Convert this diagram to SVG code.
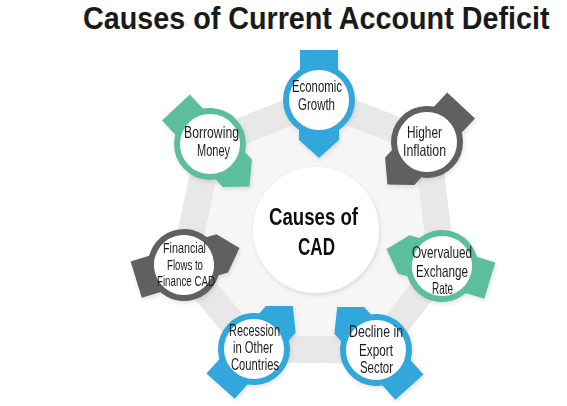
<svg xmlns="http://www.w3.org/2000/svg" width="567" height="406" viewBox="0 0 567 406">
<style>
.t{font-family:"Liberation Sans",Arial,sans-serif;font-size:16.5px;fill:#1c1c1c;text-anchor:middle}
.s{font-size:15px}
.c{font-family:"Liberation Sans",Arial,sans-serif;font-weight:bold;font-size:24px;fill:#111;text-anchor:middle}
.title{font-family:"Liberation Sans",Arial,sans-serif;font-weight:bold;font-size:32px;fill:#1a1a1a}
.blue{fill:#33a7dc}
.gray{fill:#616161}
.teal{fill:#5dbe9e}
.ring{fill:#fff;stroke-width:6}
.blue .ring{stroke:#33a7dc}
.gray .ring{stroke:#616161}
.teal .ring{stroke:#5dbe9e}
</style>
<defs>
<filter id="sh" x="-30%" y="-30%" width="160%" height="160%">
<feDropShadow dx="1" dy="2" stdDeviation="2" flood-color="#000" flood-opacity="0.12"/>
</filter>
<g id="shape">
<rect x="-19" y="-50" width="38" height="32"/>
<polygon points="-20,18 20,18 20,40 0,58 -20,40"/>
</g>
</defs>
<rect width="567" height="406" fill="#fff"/>
<text class="title" transform="translate(83,29) scale(0.83,1)" x="0" y="0" textLength="562" lengthAdjust="spacingAndGlyphs">Causes of Current Account Deficit</text>
<g id="connectors">
<polygon points="319,100 427,142 442,266 376,350 254,349 184,265 210,144" fill="#f6f6f6" stroke="#e8e8e8" stroke-width="27" stroke-linejoin="round"/>
</g>
<g id="center" filter="url(#sh)">
<circle cx="316" cy="230" r="63" fill="#fff"/>
<text class="c" x="313.5" y="225" textLength="89" lengthAdjust="spacingAndGlyphs">Causes of</text>
<text class="c" x="316.5" y="255" textLength="37" lengthAdjust="spacingAndGlyphs">CAD</text>
</g>
<g id="n-economic" class="blue" filter="url(#sh)">
<g transform="translate(319,100) rotate(0)"><use href="#shape"/><circle class="ring" r="33"/></g>
<text class="t" x="317" y="92" textLength="50" lengthAdjust="spacingAndGlyphs">Economic</text>
<text class="t" x="316.5" y="110" textLength="37" lengthAdjust="spacingAndGlyphs">Growth</text>
</g>
<g id="n-inflation" class="gray" filter="url(#sh)">
<g transform="translate(427,142) rotate(43)"><use href="#shape"/><circle class="ring" r="33"/></g>
<text class="t" x="424.5" y="138" textLength="35" lengthAdjust="spacingAndGlyphs">Higher</text>
<text class="t" x="424.5" y="156" textLength="43" lengthAdjust="spacingAndGlyphs">Inflation</text>
</g>
<g id="n-exchange" class="teal" filter="url(#sh)">
<g transform="translate(442,266) rotate(107)"><use href="#shape"/><circle class="ring" r="33"/></g>
<text class="t" x="442" y="258" textLength="60" lengthAdjust="spacingAndGlyphs">Overvalued</text>
<text class="t" x="442" y="277" textLength="52" lengthAdjust="spacingAndGlyphs">Exchange</text>
<text class="t" x="442.5" y="294" textLength="21" lengthAdjust="spacingAndGlyphs">Rate</text>
</g>
<g id="n-export" class="blue" filter="url(#sh)">
<g transform="translate(376,350) rotate(138)"><use href="#shape"/><circle class="ring" r="33"/></g>
<text class="t" x="376" y="337" textLength="54" lengthAdjust="spacingAndGlyphs">Decline in</text>
<text class="t" x="376" y="356" textLength="34" lengthAdjust="spacingAndGlyphs">Export</text>
<text class="t" x="376.5" y="373" textLength="33" lengthAdjust="spacingAndGlyphs">Sector</text>
</g>
<g id="n-recession" class="blue" filter="url(#sh)">
<g transform="translate(254,349) rotate(222)"><use href="#shape"/><circle class="ring" r="33"/></g>
<text class="t" x="254.5" y="336" textLength="51" lengthAdjust="spacingAndGlyphs">Recession</text>
<text class="t" x="253" y="353" textLength="40" lengthAdjust="spacingAndGlyphs">in Other</text>
<text class="t" x="255" y="370" textLength="48" lengthAdjust="spacingAndGlyphs">Countries</text>
</g>
<g id="n-financial" class="gray" filter="url(#sh)">
<g transform="translate(184,265) rotate(253)"><use href="#shape"/><circle class="ring" r="33"/></g>
<text class="t s" x="184.5" y="253" textLength="43" lengthAdjust="spacingAndGlyphs">Financial</text>
<text class="t s" x="185" y="270" textLength="36" lengthAdjust="spacingAndGlyphs">Flows to</text>
<text class="t s" x="186" y="286" textLength="58" lengthAdjust="spacingAndGlyphs">Finance CAD</text>
</g>
<g id="n-borrowing" class="teal" filter="url(#sh)">
<g transform="translate(210,144) rotate(317)"><use href="#shape"/><circle class="ring" r="33"/></g>
<text class="t" x="211.5" y="138" textLength="55" lengthAdjust="spacingAndGlyphs">Borrowing</text>
<text class="t" x="213.5" y="156" textLength="33" lengthAdjust="spacingAndGlyphs">Money</text>
</g>
</svg>
